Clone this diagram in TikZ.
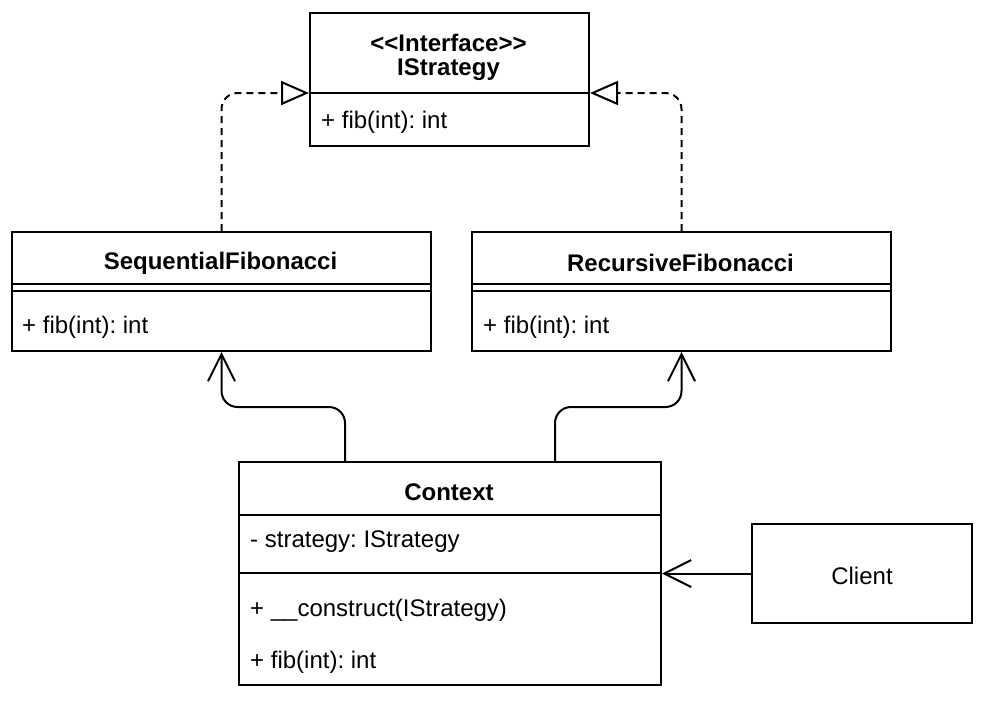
\documentclass[tikz,border=0pt]{standalone}
\usepackage{fontspec}
\setmainfont{Liberation Sans}
\usetikzlibrary{arrows.meta}
\frenchspacing

\begin{document}
\begin{tikzpicture}[x=1pt,y=-1pt,
  box/.style={draw,line width=2pt,inner sep=0pt,anchor=north west},
  sep/.style={line width=2pt},
  lbl/.style={inner sep=0pt,yshift=-2pt,font=\fontsize{24}{28}\selectfont\frenchspacing},
  title/.style={lbl,font=\fontsize{24}{28}\selectfont\bfseries},
  realize/.style={line width=2pt,dash pattern=on 7pt off 5pt,rounded corners=16pt,
    -{Triangle[open,length=28pt,width=24pt]}},
  assoc/.style={line width=2pt,rounded corners=16pt,
    -{Straight Barb[length=27pt,width=27pt]}}]
\useasboundingbox (0,0) rectangle (982,702);
% classes
\node[box,minimum width=279pt,minimum height=133pt] (strategy) at (309,12) {};
\draw[sep] (strategy.west |- 0,93) -- (strategy.east |- 0,93);
\node[title] (strategyst) at (448.5,41) {<\kern0pt<Interface>\kern0pt>};
\node[title] (strategyname) at (448.5,68) {IStrategy};
\node[lbl,anchor=west] (strategyop) at (321,120) {+ fib(int): int};

\node[box,minimum width=419pt,minimum height=119pt] (seq) at (11,231) {};
\draw[sep] (seq.west |- 0,284) -- (seq.east |- 0,284);
\draw[sep] (seq.west |- 0,291) -- (seq.east |- 0,291);
\node[title] (seqname) at (220.5,261) {SequentialFibonacci};
\node[lbl,anchor=west] (seqop) at (22,325) {+ fib(int): int};

\node[box,minimum width=419pt,minimum height=119pt] (rec) at (471,231) {};
\draw[sep] (rec.west |- 0,284) -- (rec.east |- 0,284);
\draw[sep] (rec.west |- 0,291) -- (rec.east |- 0,291);
\node[title] (recname) at (680.5,261) {RecursiveFibonacci};
\node[lbl,anchor=west] (recop) at (483,325) {+ fib(int): int};

\node[box,minimum width=422pt,minimum height=223pt] (context) at (238,461) {};
\draw[sep] (context.west |- 0,515) -- (context.east |- 0,515);
\draw[sep] (context.west |- 0,573) -- (context.east |- 0,573);
\node[title] (contextname) at (449,490) {Context};
\node[lbl,anchor=west] (contextattr) at (250,540) {- strategy: IStrategy};
\node[lbl,anchor=west] (contextctor) at (250,608) {+ \_\_construct(IStrategy)};
\node[lbl,anchor=west] (contextop) at (250,660) {+ fib(int): int};

\node[box,minimum width=220pt,minimum height=99pt] (client) at (751,523) {};
\node[lbl] (clientname) at (client.center) {Client};
% relations
\draw[realize] (seq.north) |- (strategy.west |- 0,93);
\draw[realize] (rec.north) |- (strategy.east |- 0,93);
\draw[assoc] (context.north -| 345,0) |- (seq.south |- 0,407) -- (seq.south);
\draw[assoc] (context.north -| 555,0) |- (rec.south |- 0,407) -- (rec.south);
\draw[assoc] (client.west) -- (context.east |- client.west);
\end{tikzpicture}
\end{document}
